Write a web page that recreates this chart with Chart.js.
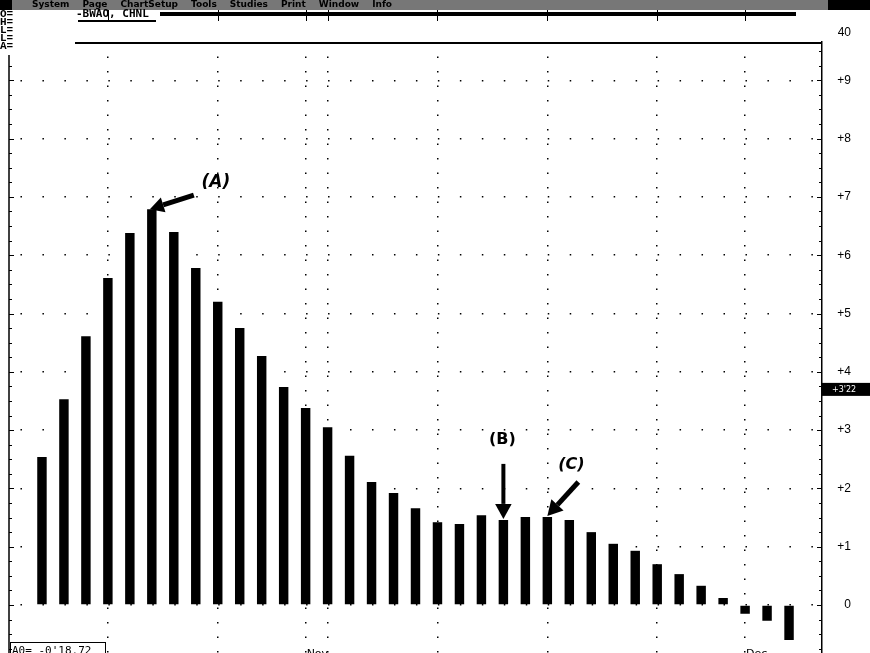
<!DOCTYPE html>
<html>
<head>
<meta charset="utf-8">
<script src="https://cdn.jsdelivr.net/npm/chart.js@4.4.1/dist/chart.umd.min.js"></script>
<style>
  html, body { margin: 0; padding: 0; background: #fff; }
  canvas { display: block; }
</style>
</head>
<body>
<canvas id="chart" width="870" height="653"></canvas>
<script>
// daily oscillator bars
const barValues = [2.54, 3.53, 4.61, 5.61, 6.38, 6.79, 6.40, 5.78, 5.20, 4.75,
                   4.27, 3.74, 3.38, 3.05, 2.56, 2.11, 1.92, 1.66, 1.42, 1.39,
                   1.54, 1.46, 1.51, 1.51, 1.46, 1.25, 1.05, 0.93, 0.70, 0.53,
                   0.33, 0.12, -0.15, -0.27, -0.60];
const barLabels = barValues.map((v, i) => String(i + 1));

const yTicks = [0, 1, 2, 3, 4, 5, 6, 7, 8, 9];
const yTickLabels = ['0', '+1', '+2', '+3', '+4', '+5', '+6', '+7', '+8', '+9'];
const topTickLabel = '40';

const gridBars = [3, 8, 12, 13, 18, 23, 28, 32];
const monthNames = ['Nov', 'Dec'];
const monthBars = [12, 32];

const noteTexts = ['(A)', '(B)', '(C)'];
const noteBars = [5, 21, 23];

const markerText = "+3'22";
const markerValue = 3.69;
const readoutText = "A0= -0'18.72";
const sideLabels = ['O=', 'H=', 'L=', 'L=', 'A='];
const menuItems = ['System', 'Page', 'ChartSetup', 'Tools', 'Studies', 'Print', 'Window', 'Info'];
const titleText = '-BWAO, CHNL';

// one empty slot each side so the bars sit where they do in the original
const cats = [''].concat(barLabels, ['']);
const vals = [null].concat(barValues, [null]);

function arrow(ctx, x1, y1, x2, y2, head, w) {
    const a = Math.atan2(y2 - y1, x2 - x1);
    const bx = x2 - head * Math.cos(a), by = y2 - head * Math.sin(a);
    ctx.lineWidth = w;
    ctx.beginPath();
    ctx.moveTo(x1, y1);
    ctx.lineTo(bx, by);
    ctx.stroke();
    ctx.beginPath();
    ctx.moveTo(x2, y2);
    ctx.lineTo(bx + head * 0.55 * Math.sin(a), by - head * 0.55 * Math.cos(a));
    ctx.lineTo(bx - head * 0.55 * Math.sin(a), by + head * 0.55 * Math.cos(a));
    ctx.closePath();
    ctx.fill();
}

const decor = {
    id: 'decor',
    afterDraw(chart) {
        const ctx = chart.ctx;
        const area = chart.chartArea;
        const xs = chart.scales.x, ys = chart.scales.y;
        ctx.save();
        ctx.fillStyle = '#000';
        ctx.strokeStyle = '#000';

        // menu strip
        ctx.fillStyle = '#777';
        ctx.fillRect(0, 0, 870, 10);
        ctx.fillStyle = '#000';
        ctx.fillRect(0, 0, 12, 10);
        ctx.fillRect(828, 0, 42, 10);
        ctx.font = 'bold 9px "DejaVu Sans"';
        ctx.textBaseline = 'middle';
        let mx = 32;
        menuItems.forEach(t => {
            ctx.fillText(t, mx, 5);
            mx += ctx.measureText(t).width + 13;
        });

        // header panel
        ctx.font = 'bold 11px "Liberation Mono"';
        sideLabels.forEach((t, i) => ctx.fillText(t, 0, 14 + i * 8));
        ctx.font = 'bold 11px "DejaVu Sans Mono"';
        ctx.fillText(titleText, 76, 14);
        ctx.fillRect(78, 20, 78, 2);
        ctx.fillRect(160, 12, 636, 4);
        ctx.fillRect(75, 42, area.right - 75, 2);
        ctx.lineWidth = 1;
        gridBars.forEach(b => {
            const x = Math.round(xs.getPixelForValue(b + 1)) + 0.5;
            ctx.beginPath();
            ctx.moveTo(x, 10);
            ctx.lineTo(x, 21);
            ctx.stroke();
        });
        ctx.font = '12px "Liberation Sans"';
        ctx.textAlign = 'right';
        ctx.fillText(topTickLabel, 851, 33);

        // left axis line and minor ticks on both axis lines
        ctx.lineWidth = 1.5;
        ctx.beginPath();
        ctx.moveTo(area.left, 55);
        ctx.lineTo(area.left, 653);
        ctx.stroke();
        ctx.lineWidth = 1;
        for (let v = -0.75; v <= 9.75; v += 0.25) {
            const y = Math.round(ys.getPixelForValue(v)) + 0.5;
            const len = Number.isInteger(v) ? 5 : 3;
            if (y > 55) {
                ctx.beginPath();
                ctx.moveTo(area.left, y);
                ctx.lineTo(area.left + len, y);
                ctx.stroke();
            }
            if (y > area.top) {
                ctx.beginPath();
                ctx.moveTo(area.right, y);
                ctx.lineTo(area.right - len, y);
                ctx.stroke();
            }
        }

        // current value box on the right axis
        const my = ys.getPixelForValue(markerValue);
        ctx.fillRect(area.right, my - 7, 870 - area.right, 13);
        ctx.fillStyle = '#fff';
        ctx.font = '8px "DejaVu Sans"';
        ctx.textAlign = 'left';
        ctx.fillText(markerText, area.right + 10, my);
        ctx.fillStyle = '#000';

        // annotations
        const tip = i => ({ x: xs.getPixelForValue(noteBars[i] + 1), y: ys.getPixelForValue(barValues[noteBars[i]]) });
        ctx.textAlign = 'center';
        let p = tip(0);
        ctx.font = 'italic bold 17px "DejaVu Sans"';
        ctx.fillText(noteTexts[0], p.x + 64, p.y - 27);
        arrow(ctx, p.x + 42, p.y - 14, p.x - 2, p.y, 14, 5);
        p = tip(1);
        ctx.font = 'bold 16px "DejaVu Sans"';
        ctx.fillText(noteTexts[1], p.x - 1, p.y - 80);
        arrow(ctx, p.x, p.y - 56, p.x, p.y - 1, 15, 4);
        p = tip(2);
        ctx.font = 'italic bold 16px "DejaVu Sans"';
        ctx.fillText(noteTexts[2], p.x + 24, p.y - 52);
        arrow(ctx, p.x + 31, p.y - 35, p.x, p.y - 1, 15, 5);

        // bottom: readout box and month names
        ctx.textAlign = 'left';
        ctx.textBaseline = 'alphabetic';
        ctx.lineWidth = 1;
        ctx.strokeRect(10.5, 642.5, 95, 14);
        ctx.font = '11px "DejaVu Sans Mono"';
        ctx.fillText(readoutText, 12, 654);
        ctx.font = '11px "DejaVu Sans"';
        monthBars.forEach((b, i) => {
            ctx.fillText(monthNames[i], xs.getPixelForValue(b + 1) + 1, 657);
        });
        ctx.restore();
    }
};

const chart = new Chart(document.getElementById('chart').getContext('2d'), {
    type: 'bar',
    data: {
        labels: cats,
        datasets: [{
            data: vals,
            backgroundColor: '#000',
            borderWidth: 0,
            barPercentage: 0.43,
            categoryPercentage: 1,
        }]
    },
    options: {
        responsive: false,
        animation: false,
        devicePixelRatio: 1,
        layout: { padding: { top: 42, left: 9, right: 19, bottom: 0 } },
        plugins: { legend: { display: false }, tooltip: { enabled: false } },
        scales: {
            x: {
                offset: true,
                afterFit: (s) => { s.height = 0; },
                ticks: { display: false },
                grid: {
                    offset: false,
                    drawTicks: false,
                    lineWidth: 1.5,
                    color: (c) => gridBars.includes(c.index - 1) ? '#000' : 'rgba(0,0,0,0)',
                },
                border: { display: false, dash: [1.5, 13] },
            },
            y: {
                position: 'right',
                min: -0.823,
                max: 9.657,
                afterBuildTicks: (s) => { s.ticks = yTicks.map(v => ({ value: v })); },
                afterFit: (s) => { s.width = 29; s.paddingTop = 0; s.paddingBottom = 0; },
                ticks: {
                    color: '#000',
                    font: { family: 'Liberation Sans', size: 12 },
                    crossAlign: 'far',
                    padding: 15,
                    callback: (v) => yTickLabels[yTicks.indexOf(v)],
                },
                grid: {
                    drawTicks: false,
                    color: '#000',
                    lineWidth: 1.5,
                },
                border: { display: true, color: '#000', width: 1.5, dash: [1.5, 20.47], dashOffset: 10.5 },
            }
        }
    },
    plugins: [decor]
});
</script>
</body>
</html>
